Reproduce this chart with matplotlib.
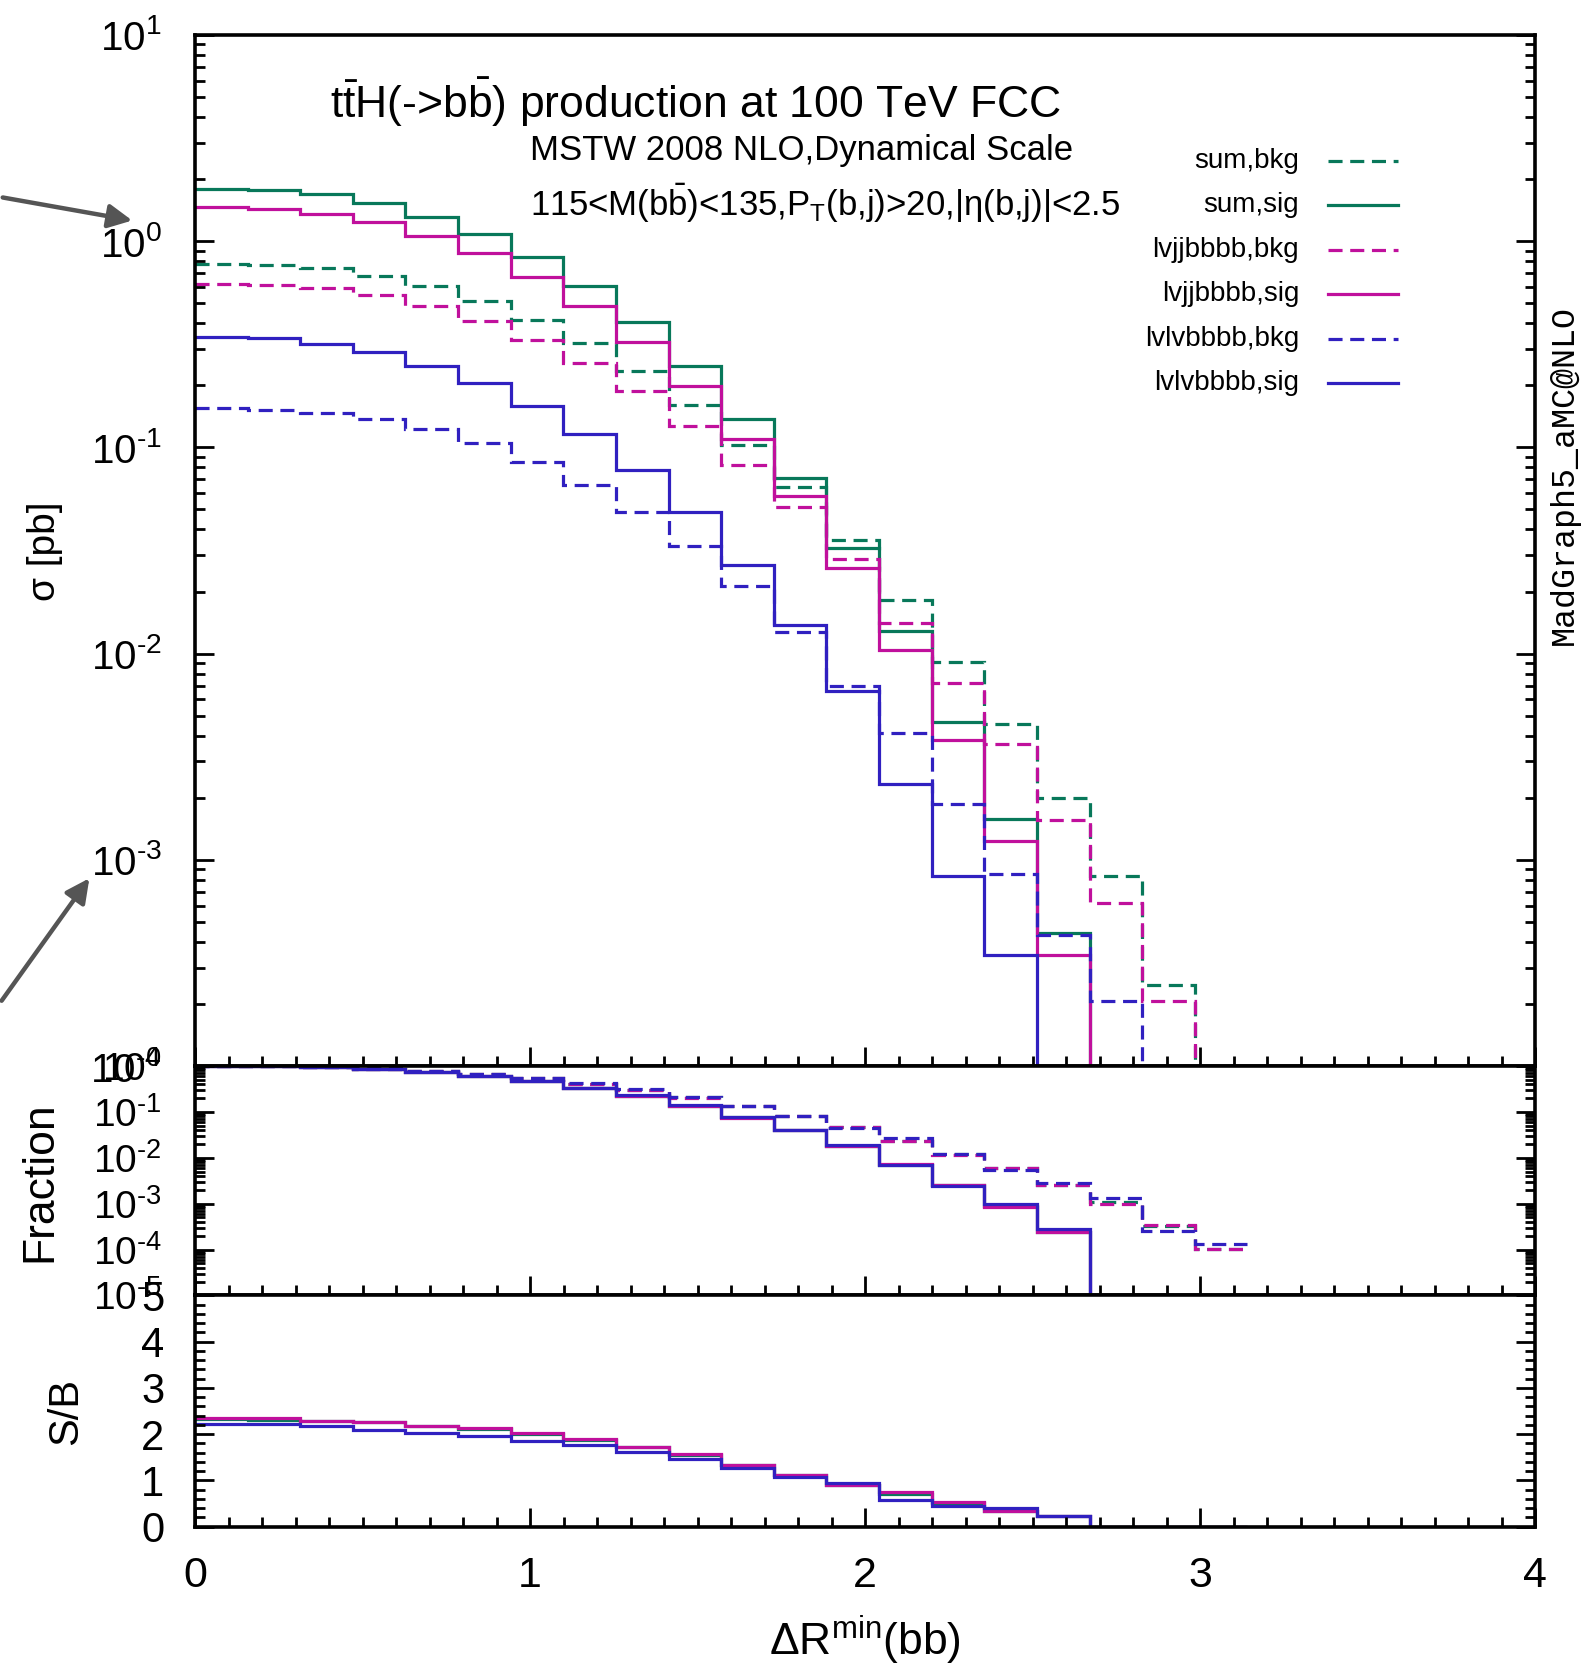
"""
Recreate the ttH(->bb) DeltaR^min(bb) histogram: cross section (log),
normalised fraction and S/B panels.  Saves out.png.
"""
import numpy as np
import matplotlib

matplotlib.use("Agg")
import matplotlib.pyplot as plt
from matplotlib import font_manager
from matplotlib.patches import FancyArrowPatch
from matplotlib.ticker import (FixedLocator, FuncFormatter, LogLocator,
                               MultipleLocator, NullFormatter)

# ---------------------------------------------------------------- data
# 20 bins of width pi/20 in DeltaR^min(bb)
bin_edges = np.linspace(0.0, np.pi, 21)

# sigma per bin [pb]
sum_sig = [1.80, 1.77, 1.69, 1.54, 1.31, 1.08, 0.835, 0.604, 0.404, 0.247,
           0.137, 0.0714, 0.0325, 0.0128, 0.00464, 0.00158, 0.000443, 0, 0, 0]
sum_bkg = [0.774, 0.77, 0.738, 0.680, 0.604, 0.514, 0.415, 0.321, 0.235, 0.160,
           0.1026, 0.064, 0.0357, 0.01815, 0.00912, 0.00455, 0.00199, 0.00083,
           0.000247, 7.8e-5]
lvjj_sig = [1.46, 1.44, 1.36, 1.24, 1.06, 0.873, 0.673, 0.486, 0.323, 0.199,
            0.110, 0.0578, 0.0259, 0.01045, 0.0038, 0.00123, 0.000344, 0, 0, 0]
lvjj_bkg = [0.619, 0.615, 0.593, 0.546, 0.486, 0.408, 0.332, 0.257, 0.188, 0.127,
            0.0824, 0.0513, 0.0286, 0.0140, 0.00724, 0.00366, 0.00156, 0.000618,
            0.000207, 6.3e-5]
lvlv_sig = [0.342, 0.338, 0.319, 0.289, 0.249, 0.205, 0.158, 0.116, 0.078, 0.0484,
            0.0269, 0.01374, 0.00658, 0.00234, 0.000834, 0.000344, 9.7e-5, 0, 0, 0]
lvlv_bkg = [0.1545, 0.152, 0.147, 0.138, 0.1228, 0.105, 0.0851, 0.0656, 0.0484,
            0.0333, 0.0212, 0.0127, 0.0070, 0.00411, 0.00187, 0.00085, 0.000432,
            0.000207, 4.0e-5, 2.0e-5]

series_names = ["sum,bkg", "sum,sig", "lvjjbbbb,bkg", "lvjjbbbb,sig",
                "lvlvbbbb,bkg", "lvlvbbbb,sig"]
series_values = [sum_bkg, sum_sig, lvjj_bkg, lvjj_sig, lvlv_bkg, lvlv_sig]

GREEN, MAGENTA, BLUE = "#08785a", "#c0109c", "#3020c0"
series_colors = [GREEN, GREEN, MAGENTA, MAGENTA, BLUE, BLUE]
series_dashed = [True, False, True, False, True, False]
DASH = (0, (4.4, 2.4))

# ---------------------------------------------------------------- fonts
names = {f.name for f in font_manager.fontManager.ttflist}
SANS = "Liberation Sans"
NARROW = "Liberation Sans Narrow" if "Liberation Sans Narrow" in names else SANS
MONO = "Liberation Mono"
plt.rcParams["font.family"] = [SANS, "DejaVu Sans"]
plt.rcParams["mathtext.fontset"] = "custom"
plt.rcParams["mathtext.rm"] = SANS
plt.rcParams["mathtext.default"] = "regular"
plt.rcParams["axes.unicode_minus"] = False

W_PX, H_PX = 1583, 1670
fig = plt.figure(figsize=(W_PX / 100, H_PX / 100), dpi=100)


def fx(x):
    return x / W_PX


def fy(y):
    return 1 - y / H_PX


left, right = 195, 1535
main_top, main_bot, frac_bot, sb_bot = 35, 1066, 1295.4, 1526.6
ax_main = fig.add_axes([fx(left), fy(main_bot), fx(right - left), (main_bot - main_top) / H_PX])
ax_frac = fig.add_axes([fx(left), fy(frac_bot), fx(right - left), (frac_bot - main_bot) / H_PX])
ax_sb = fig.add_axes([fx(left), fy(sb_bot), fx(right - left), (sb_bot - frac_bot) / H_PX])

LW = 2.3
FLOOR = 1e-12  # zero bins drop below the axis


def log_label(v, pos):
    # gnuplot-like label with a short hyphen in the exponent
    e = round(np.log10(v))
    exp = r"\text{-}%d" % -e if e < 0 else "%d" % e
    return r"$\mathregular{10^{%s}}$" % exp


# ---------------------------------------------------------------- main panel
for vals, col, dashed in zip(series_values, series_colors, series_dashed):
    v = np.asarray(vals, dtype=float)
    ax_main.stairs(np.where(v > 0, v, FLOOR), bin_edges, baseline=None,
                   color=col, lw=LW, linestyle=DASH if dashed else "-")
ax_main.set_yscale("log")
ax_main.set_ylim(1e-4, 10)
ax_main.yaxis.set_major_locator(FixedLocator(10.0 ** np.arange(-4, 2)))
ax_main.yaxis.set_major_formatter(FuncFormatter(log_label))
ax_main.yaxis.set_minor_locator(LogLocator(base=10, subs=np.arange(2, 10), numticks=20))
ax_main.yaxis.set_minor_formatter(NullFormatter())
ax_main.tick_params(axis="y", labelsize=29, labelfontfamily=NARROW, pad=24)

# ---------------------------------------------------------------- fraction
for vals, col, dashed in zip(series_values, series_colors, series_dashed):
    v = np.asarray(vals, dtype=float)
    frac = v / v[0]
    ax_frac.stairs(np.where(frac > 0, frac, FLOOR), bin_edges, baseline=None,
                   color=col, lw=LW, linestyle=DASH if dashed else "-")
ax_frac.set_yscale("log")
ax_frac.set_ylim(1e-5, 1)
ax_frac.yaxis.set_major_locator(FixedLocator(10.0 ** np.arange(-5, 1)))
ax_frac.yaxis.set_major_formatter(FuncFormatter(log_label))
ax_frac.yaxis.set_minor_locator(LogLocator(base=10, subs=np.arange(2, 10), numticks=20))
ax_frac.yaxis.set_minor_formatter(NullFormatter())
ax_frac.tick_params(axis="y", labelsize=28, pad=24)

# ---------------------------------------------------------------- S/B
for sig, bkg, col in [(sum_sig, sum_bkg, GREEN), (lvjj_sig, lvjj_bkg, MAGENTA),
                      (lvlv_sig, lvlv_bkg, BLUE)]:
    s, b = np.asarray(sig, dtype=float), np.asarray(bkg, dtype=float)
    ratio = np.divide(s, b, out=np.zeros_like(s), where=b > 0)
    ax_sb.stairs(ratio, bin_edges, baseline=None, color=col, lw=LW)
ax_sb.set_ylim(0, 5)
ax_sb.yaxis.set_major_locator(MultipleLocator(1))
ax_sb.yaxis.set_minor_locator(MultipleLocator(0.2))
ax_sb.tick_params(axis="y", labelsize=30, pad=22)

# ---------------------------------------------------------------- common axes style
for ax in (ax_main, ax_frac, ax_sb):
    ax.set_xlim(0, 4)
    ax.xaxis.set_major_locator(MultipleLocator(1))
    ax.xaxis.set_minor_locator(MultipleLocator(0.1))
    for sp in ax.spines.values():
        sp.set_linewidth(2.6)
    ax.tick_params(which="both", direction="in", width=2.0, left=True, right=True,
                   top=False, bottom=True, labelbottom=False)
    ax.tick_params(which="major", length=14)
    ax.tick_params(which="minor", length=7)
ax_sb.tick_params(axis="x", labelbottom=True, labelsize=31, pad=21)

# ---------------------------------------------------------------- texts
fig.text(fx(330), fy(118),
         r"t$\mathregular{\bar{t}}$H(->b$\mathregular{\bar{b}}$) production at 100 TeV FCC",
         fontsize=32, ha="left", va="baseline")
fig.text(fx(530), fy(160), "MSTW 2008 NLO,Dynamical Scale",
         fontsize=25, ha="left", va="baseline")
fig.text(fx(530), fy(216),
         r"115<M(b$\mathregular{\bar{b}}$)<135,P$_\mathregular{T}$(b,j)>20,|η(b,j)|<2.5",
         fontsize=25, ha="left", va="baseline")

# legend drawn by hand, gnuplot style: label then sample line
leg_y0, leg_dy = 161, 44.4
for i, (name, col, dashed) in enumerate(zip(series_names, series_colors, series_dashed)):
    yy = leg_y0 + i * leg_dy
    fig.text(fx(1299), fy(yy + 7), name, fontsize=20, ha="right", va="baseline")
    fig.add_artist(plt.Line2D([fx(1328), fx(1398)], [fy(yy), fy(yy)], color=col, lw=LW,
                              linestyle=DASH if dashed else "-", transform=fig.transFigure))

fig.text(fx(45), fy(551), "σ [pb]", fontsize=28, rotation=90, ha="center", va="center")
fig.text(fx(40), fy(1182), "Fraction", fontsize=32, rotation=90, ha="center", va="center")
fig.text(fx(66), fy(1411), "S/B", fontsize=30, rotation=90, ha="center", va="center")
fig.text(fx(865), fy(1640), r"ΔR$^{\mathregular{min}}$(bb)", fontsize=32,
         ha="center", va="center")
fig.text(fx(1564), fy(475), "MadGraph5_aMC@NLO", fontsize=24, family=MONO,
         rotation=90, ha="center", va="center")

# grey pointer arrows on the left edge
for tail, head in [((0, 197), (135, 221)), ((0, 1003), (91, 876))]:
    fig.add_artist(FancyArrowPatch((fx(tail[0]), fy(tail[1])), (fx(head[0]), fy(head[1])),
                                   transform=fig.transFigure, arrowstyle="-|>",
                                   mutation_scale=36, color="#555555", lw=3.2))

fig.savefig("out.png", dpi=100)
plt.close(fig)
